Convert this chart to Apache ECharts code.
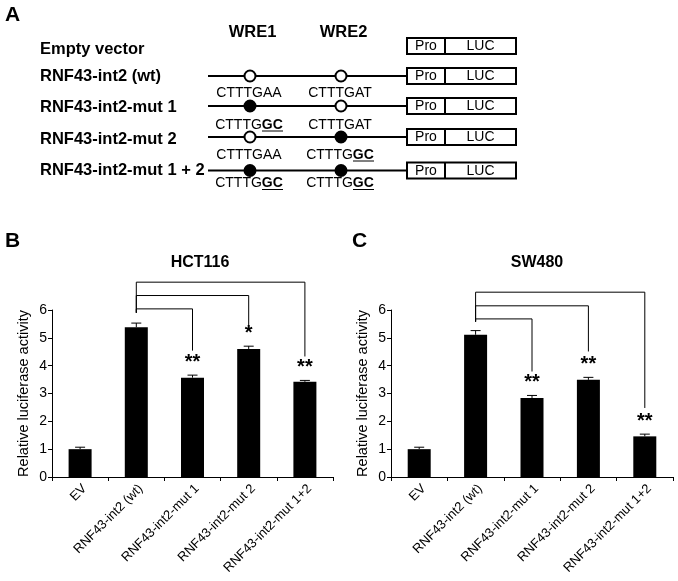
<!DOCTYPE html>
<html><head><meta charset="utf-8">
<script src="https://cdn.jsdelivr.net/npm/echarts@6/dist/echarts.min.js"></script>
<style>html,body{margin:0;padding:0;background:#fff}#c{width:678px;height:581px}</style>
</head><body><div id="c"></div>
<script>
// ---- data ----
const categories = ['EV', 'RNF43-int2 (wt)', 'RNF43-int2-mut 1', 'RNF43-int2-mut 2', 'RNF43-int2-mut 1+2'];
const hctValues = [1.0, 5.38, 3.57, 4.60, 3.42];
const hctErrors = [0.07, 0.15, 0.09, 0.10, 0.05];
const hctStars = ['', '', '**', '*', '**'];
const swValues = [1.0, 5.11, 2.84, 3.49, 1.46];
const swErrors = [0.07, 0.15, 0.09, 0.09, 0.08];
const swStars = ['', '', '**', '**', '**'];
// comparison brackets: from category 1 to target; top level and drop end (data units)
const bracketTargets = [2, 3, 4];
const hctBracketTop = [6.04, 6.52, 7.0];
const hctBracketEnd = [4.54, 5.26, 4.33];
const hctBracketStart = 5.9;
const swBracketTop = [5.68, 6.15, 6.64];
const swBracketEnd = [3.79, 4.51, 2.48];
const swBracketStart = 5.58;
const yTicks = [0, 6, 1];

// panel A schematic
const constructNames = ['Empty vector', 'RNF43-int2 (wt)', 'RNF43-int2-mut 1', 'RNF43-int2-mut 2', 'RNF43-int2-mut 1 + 2'];
const wre1Mutated = [null, false, true, false, true];
const wre2Mutated = [null, false, false, true, true];
const wre1Seq = [null, 'CTTTGAA', 'CTTTGGC', 'CTTTGAA', 'CTTTGGC'];
const wre2Seq = [null, 'CTTTGAT', 'CTTTGAT', 'CTTTGGC', 'CTTTGGC'];

const F = 'Arial, "Liberation Sans", sans-serif';

// ---- panel A graphics ----
const rowY = [46, 76, 106, 137, 170.5];
const labelY = [49.5, 76.5, 107, 139, 170.5];
const seqY = [null, 93, 125, 155, 183.5];
const lineX0 = 208, boxX0 = 407, boxX1 = 516, proX = 445;
const wre1X = 250, wre2X = 341;
const gA = [];
gA.push({type: 'text', left: 5, top: 5, style: {text: 'A', font: 'bold 21px ' + F, fill: '#000'}});
gA.push({type: 'text', x: 252.5, y: 32, style: {text: 'WRE1', font: 'bold 16.5px ' + F, fill: '#000', align: 'center', verticalAlign: 'middle'}});
gA.push({type: 'text', x: 343.5, y: 32, style: {text: 'WRE2', font: 'bold 16.5px ' + F, fill: '#000', align: 'center', verticalAlign: 'middle'}});
constructNames.forEach((name, i) => {
  const y = rowY[i];
  gA.push({type: 'text', x: 40, y: labelY[i], style: {text: name, font: 'bold 16.5px ' + F, fill: '#000', align: 'left', verticalAlign: 'middle'}});
  if (wre1Mutated[i] !== null) {
    gA.push({type: 'line', shape: {x1: lineX0, y1: y, x2: boxX0, y2: y}, style: {stroke: '#000', lineWidth: 2}});
    [[wre1X, wre1Mutated[i], wre1Seq[i]], [wre2X, wre2Mutated[i], wre2Seq[i]]].forEach(([cx, mut, seq]) => {
      gA.push({type: 'circle', shape: {cx: cx, cy: y, r: 5.5}, style: {fill: mut ? '#000' : '#fff', stroke: '#000', lineWidth: 2}, z: 10});
      const sx = cx - 1;
      if (seq.endsWith('GC')) {
        gA.push({type: 'text', x: sx, y: seqY[i], style: {
          text: '{n|CTTTG}{b|GC}', align: 'center', verticalAlign: 'middle',
          rich: {n: {font: '14px ' + F, fill: '#000'}, b: {font: 'bold 14px ' + F, fill: '#000'}}}});
        gA.push({type: 'line', shape: {x1: sx + 13, y1: seqY[i] + 6, x2: sx + 34, y2: seqY[i] + 6}, style: {stroke: '#000', lineWidth: 1}});
      } else {
        gA.push({type: 'text', x: sx, y: seqY[i], style: {text: seq, font: '14px ' + F, fill: '#000', align: 'center', verticalAlign: 'middle'}});
      }
    });
  }
  gA.push({type: 'rect', shape: {x: boxX0, y: y - 8, width: boxX1 - boxX0, height: 16}, style: {fill: '#fff', stroke: '#000', lineWidth: 2}});
  gA.push({type: 'line', shape: {x1: proX, y1: y - 8, x2: proX, y2: y + 8}, style: {stroke: '#000', lineWidth: 2}});
  gA.push({type: 'text', x: (boxX0 + proX) / 2, y: y + 0.5, style: {text: 'Pro', font: '14px ' + F, fill: '#000', align: 'center', verticalAlign: 'middle'}});
  gA.push({type: 'text', x: (proX + boxX1) / 2, y: y + 0.5, style: {text: 'LUC', font: '14px ' + F, fill: '#000', align: 'center', verticalAlign: 'middle'}});
});
gA.push({type: 'text', left: 5, top: 231, style: {text: 'B', font: 'bold 21px ' + F, fill: '#000'}});
gA.push({type: 'text', left: 352, top: 231, style: {text: 'C', font: 'bold 21px ' + F, fill: '#000'}});

// ---- chart panels ----
function axes(idx) {
  const x = {
    type: 'category', gridIndex: idx, data: categories,
    axisLine: {lineStyle: {color: '#000', width: 1}},
    axisTick: {show: true, length: 4, lineStyle: {color: '#000'}},
    axisLabel: {rotate: 45, color: '#000', fontSize: 13, fontFamily: F, margin: 5, interval: 0, verticalAlign: 'top'}
  };
  const y = {
    type: 'value', gridIndex: idx, min: yTicks[0], max: yTicks[1], interval: yTicks[2],
    name: 'Relative luciferase activity', nameLocation: 'middle', nameGap: 21,
    nameTextStyle: {color: '#000', fontSize: 14.5, fontFamily: F},
    axisLine: {show: true, lineStyle: {color: '#000', width: 1}},
    axisTick: {show: true, length: 4, lineStyle: {color: '#000'}},
    axisLabel: {color: '#000', fontSize: 14, fontFamily: F, margin: 5},
    splitLine: {show: false}
  };
  return [x, y];
}
function seriesFor(idx, values, errors, stars, tops, ends, start) {
  const s = [];
  s.push({type: 'bar', xAxisIndex: idx, yAxisIndex: idx, data: values, barWidth: 23,
    itemStyle: {color: '#000'}, silent: true});
  s.push({type: 'custom', xAxisIndex: idx, yAxisIndex: idx, clip: false, silent: true,
    data: values.map((v, i) => [i, v, v + errors[i]]),
    renderItem: function (params, api) {
      const p0 = api.coord([api.value(0), api.value(1)]);
      const p1 = api.coord([api.value(0), api.value(2)]);
      return {type: 'group', children: [
        {type: 'line', shape: {x1: p0[0], y1: p0[1], x2: p1[0], y2: p1[1]}, style: {stroke: '#000', lineWidth: 1}},
        {type: 'line', shape: {x1: p1[0] - 5, y1: p1[1], x2: p1[0] + 5, y2: p1[1]}, style: {stroke: '#000', lineWidth: 1}}
      ]};
    }});
  s.push({type: 'custom', xAxisIndex: idx, yAxisIndex: idx, clip: false, silent: true,
    data: values.map((v, i) => [i, v + errors[i]]),
    renderItem: function (params, api) {
      const st = stars[params.dataIndex];
      if (!st) return null;
      const p = api.coord([api.value(0), api.value(1)]);
      return {type: 'text', x: p[0], y: p[1] - 3, style: {text: st, font: 'bold 20px ' + F, fill: '#000', align: 'center', verticalAlign: 'bottom'}};
    }});
  s.push({type: 'custom', xAxisIndex: idx, yAxisIndex: idx, clip: false, silent: true,
    data: bracketTargets.map((t, k) => [1, t, tops[k], ends[k], start]),
    renderItem: function (params, api) {
      const a0 = api.coord([api.value(0), api.value(4)]);
      const a1 = api.coord([api.value(0), api.value(2)]);
      const b1 = api.coord([api.value(1), api.value(2)]);
      const b0 = api.coord([api.value(1), api.value(3)]);
      return {type: 'polyline', shape: {points: [a0, a1, b1, b0]}, style: {stroke: '#000', lineWidth: 1, fill: null}};
    }});
  return s;
}
const [x0, y0] = axes(0);
const [x1, y1] = axes(1);
const option = {
  animation: false,
  backgroundColor: '#fff',
  title: [
    {text: 'HCT116', left: 195, top: 250, textAlign: 'center', textStyle: {fontSize: 16, fontWeight: 'bold', color: '#000', fontFamily: F}},
    {text: 'SW480', left: 532, top: 250, textAlign: 'center', textStyle: {fontSize: 16, fontWeight: 'bold', color: '#000', fontFamily: F}}
  ],
  grid: [
    {left: 52, top: 310, width: 281, height: 167},
    {left: 391, top: 310, width: 282, height: 167}
  ],
  xAxis: [x0, x1],
  yAxis: [y0, y1],
  series: [].concat(
    seriesFor(0, hctValues, hctErrors, hctStars, hctBracketTop, hctBracketEnd, hctBracketStart),
    seriesFor(1, swValues, swErrors, swStars, swBracketTop, swBracketEnd, swBracketStart)
  ),
  graphic: gA
};
const chart = echarts.init(document.getElementById('c'), null, {renderer: 'canvas'});
chart.setOption(option);
</script></body></html>
